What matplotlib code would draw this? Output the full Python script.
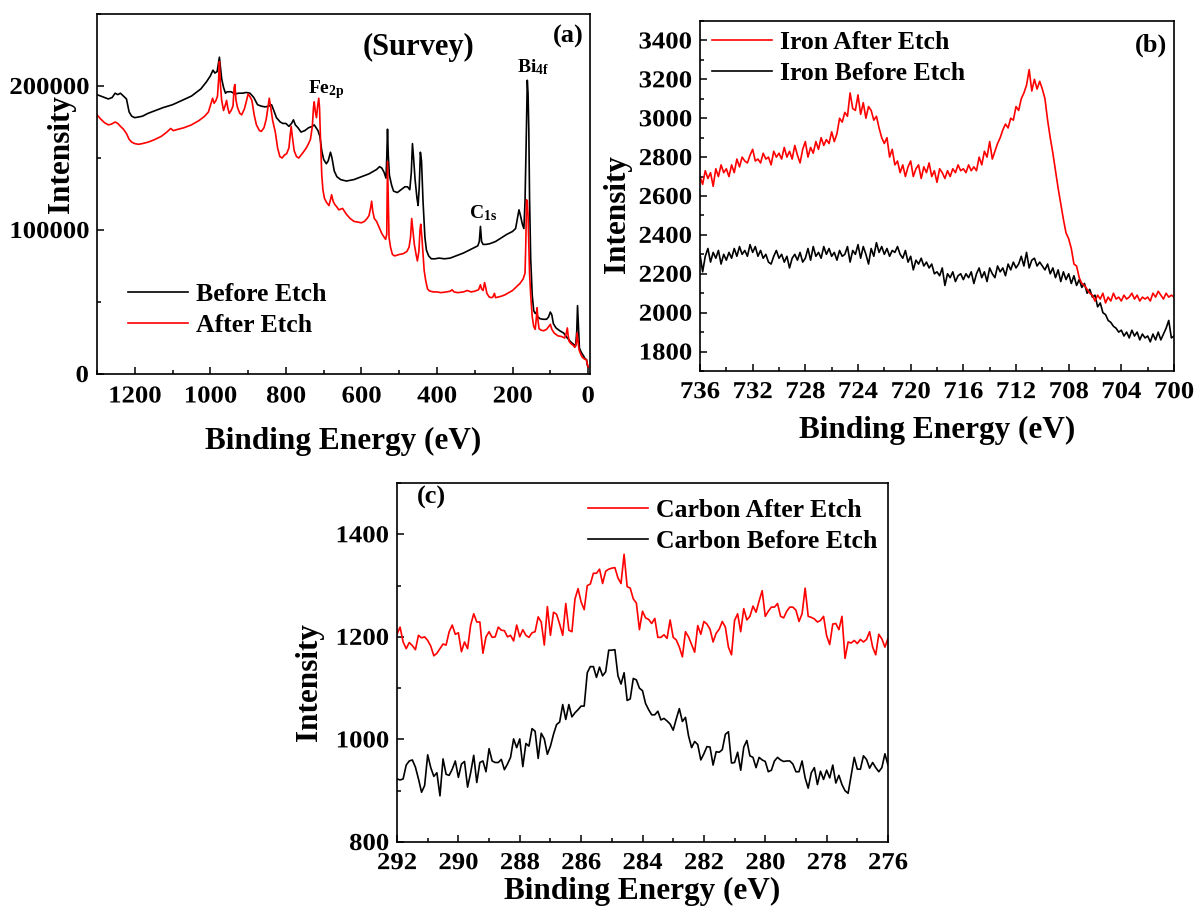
import numpy as np
import matplotlib
matplotlib.use('Agg')
import matplotlib.pyplot as plt
from matplotlib.ticker import MultipleLocator, FormatStrFormatter
from matplotlib.patheffects import AbstractPathEffect
from matplotlib.transforms import Affine2D

# ---------------- data: (a) survey ----------------
survey_before_be = [1300, 1290, 1280, 1270, 1260, 1252, 1245, 1238, 1230, 1222, 1215, 1208, 1200, 1190, 1180,
                    1165, 1150, 1125, 1100, 1075, 1050, 1025, 1010, 1000, 993, 988, 982, 976, 970, 965, 960,
                    955, 945, 935, 925, 915, 905, 895, 885, 875, 865, 855, 845, 838, 832, 825, 815, 808, 800,
                    792, 785, 780, 775, 768, 760, 750, 740, 730, 725, 720, 715, 710, 705, 700, 693, 688, 682,
                    678, 672, 665, 655, 640, 620, 600, 580, 560, 552, 546, 540, 535, 533, 531, 529, 526, 520,
                    515, 505, 495, 485, 478, 472, 468, 465, 462, 458, 453, 450, 447, 444, 441, 437, 432, 428,
                    422, 415, 405, 395, 380, 365, 350, 330, 315, 300, 292, 288, 285, 282, 278, 270, 260, 245,
                    230, 215, 200, 192, 187, 183, 179, 174, 170, 167, 164, 161, 159, 157, 155, 152, 148, 144,
                    140, 137, 134, 128, 120, 110, 105, 100, 96, 92, 85, 75, 65, 55, 45, 38, 33, 30, 28, 26, 23,
                    18, 12, 8, 4, 2, 0]
survey_before_k = [194, 193, 192, 191, 192, 195, 194, 195, 193, 191, 182, 179, 178, 178.5, 179,
                   181, 182.5, 185, 187, 190, 193, 198, 203, 207, 211, 209, 210, 220, 205, 199, 195,
                   196, 196, 194.5, 195, 195, 195.5, 195, 192, 187, 186, 185.5, 186, 187, 183, 178, 175, 174, 174,
                   172, 174, 176.5, 173, 171, 168, 169, 171, 172, 173, 171, 169, 165, 155, 149, 146, 148, 154,
                   150, 141, 137, 135, 134, 135, 137, 139, 142, 144, 143, 140, 136, 150, 170, 152, 138, 131,
                   127, 126, 128, 130, 130, 128, 140, 160, 150, 135, 122, 117, 130, 154, 148, 120, 95, 86,
                   82, 80, 80, 80.5, 80, 80.5, 82, 84, 86, 88, 89, 92, 102.5, 92, 90, 90, 90.5, 92,
                   94.5, 97, 99, 101, 108, 114, 110, 104, 101, 120, 160, 204, 195, 170, 122, 80, 55, 44,
                   42, 43, 40, 38.5, 38, 38, 39.5, 43, 41, 35, 32, 30, 28.5, 25, 22, 20.5, 19.5, 30, 47.5, 35, 18,
                   15, 12.5, 10.5, 10, 6, 5]

survey_after_be = [1300, 1290, 1280, 1270, 1262, 1252, 1245, 1238, 1230, 1222, 1215, 1208, 1200, 1190, 1180,
                   1165, 1150, 1130, 1115, 1105, 1098, 1085, 1070, 1050, 1030, 1015, 1005, 998, 994, 990, 985,
                   981, 978, 976, 973, 970, 965, 960, 957, 954, 950, 945, 940, 937, 935, 932, 928, 922, 917,
                   910, 904, 900, 896, 890, 884, 878, 870, 865, 858, 852, 847, 844, 840, 835, 828, 822, 816,
                   810, 804, 798, 792, 789, 786, 783, 778, 772, 766, 760, 754, 746, 740, 735, 730, 727, 725,
                   722, 719, 716, 713, 711, 708, 705, 702, 698, 692, 686, 682, 679, 675, 670, 665, 660, 655,
                   650, 645, 640, 630, 620, 610, 600, 592, 585, 580, 576, 573, 570, 566, 560, 555, 550, 546,
                   540, 536, 533, 531, 529, 527, 523, 518, 512, 500, 490, 480, 474, 470, 467, 464, 460, 456,
                   452, 448, 445, 443, 440, 437, 434, 430, 425, 420, 410, 400, 390, 375, 365, 360, 355, 345,
                   330, 320, 310, 300, 290, 285, 282, 278, 274, 271, 268, 262, 256, 252, 248, 245, 238, 230,
                   220, 210, 200, 190, 180, 172, 167, 165, 163, 161, 159, 157, 155, 152, 148, 144, 140, 137,
                   135, 133, 130, 125, 118, 110, 104, 100, 96, 90, 80, 70, 62, 58, 55, 53, 50, 45, 40, 35, 31,
                   29, 27, 24, 20, 15, 10, 5, 2, 0]
survey_after_k = [180, 177, 174.5, 173, 173.5, 175, 174, 172, 170, 167, 163, 161, 160, 159.5, 160,
                  161, 162.5, 165, 168, 170.5, 169, 170, 171, 173, 176, 179, 182, 188, 191.5, 188, 190,
                  193, 205, 217, 200, 190, 183, 187, 190, 185, 181, 183, 186, 199, 201, 190, 185, 181, 180,
                  184, 190, 194.5, 193, 190, 180, 173, 169, 168.5, 171, 177, 186, 191.5, 185, 176, 168, 157, 151,
                  150, 152, 153, 157, 165, 172, 165, 155, 151, 150, 152, 154, 157, 160, 163, 172, 185, 189,
                  182, 178, 186, 191.5, 185, 160, 138, 128, 122, 119, 117, 121, 124.5, 120, 117.5, 116, 114, 114.5,
                  115, 113, 111, 108, 106, 105.5, 105, 106, 108, 110, 115, 120, 113, 108, 106, 103, 100, 97.5,
                  95, 93.5, 97, 147.5, 120, 95, 88, 83, 82, 83, 83.5, 85, 88, 95, 108, 100, 90, 84,
                  78.5, 85, 100, 104, 95, 84, 72, 65, 59, 57.7, 57, 57, 56.5, 57, 57.5, 58.5, 57, 56.5,
                  57, 58, 57, 57.5, 58.5, 62, 59, 58, 63.5, 60, 56, 53.5, 53, 53.5, 56, 53, 53.5, 54,
                  55, 56.5, 58, 60.5, 63, 66, 70, 90, 121, 120, 110, 90, 70, 55, 40, 33, 31, 39,
                  46, 38, 31.5, 30.5, 30, 31, 33, 34.5, 31, 28.5, 26.5, 26, 25, 28, 32, 27, 22.5, 21, 20, 18.5, 22,
                  28.5, 23, 17, 14, 11.5, 10.5, 10, 7, 5]

# ---------------- data: (b) Fe 2p ----------------
iron_be = np.linspace(736.0, 700.0, 181)
iron_after = [2700, 2660, 2730, 2690, 2720, 2650, 2740, 2700, 2760, 2720,
              2740, 2700, 2760, 2720, 2790, 2750, 2800, 2780, 2770, 2810,
              2840, 2780, 2790, 2770, 2820, 2790, 2800, 2760, 2830, 2800,
              2820, 2790, 2850, 2800, 2830, 2790, 2860, 2810, 2770, 2840,
              2880, 2800, 2850, 2820, 2880, 2840, 2900, 2860, 2890, 2870,
              2930, 2880, 2920, 3000, 2980, 3030, 3010, 3130, 3050, 3040,
              3120, 3020, 3080, 3000, 3060, 3040, 2990, 3010, 2950, 2900,
              2870, 2900, 2800, 2840, 2760, 2780, 2720, 2760, 2700, 2750,
              2780, 2700, 2740, 2760, 2690, 2750, 2720, 2770, 2700, 2730,
              2670, 2740, 2720, 2690, 2730, 2700, 2740, 2720, 2760, 2730,
              2740, 2720, 2760, 2730, 2750, 2730, 2800, 2760, 2830, 2800,
              2880, 2790, 2830, 2870, 2900, 2940, 2970, 2950, 3000, 2990,
              3060, 3040, 3100, 3130, 3170, 3250, 3140, 3200, 3150, 3190,
              3150, 3100, 2990, 2900, 2820, 2730, 2640, 2560, 2480, 2410,
              2380, 2330, 2250, 2240, 2180, 2150, 2140, 2120, 2100, 2090,
              2060, 2090, 2070, 2100, 2050, 2080, 2060, 2100, 2070, 2080,
              2060, 2090, 2070, 2080, 2100, 2070, 2090, 2060, 2080, 2070,
              2080, 2060, 2100, 2080, 2110, 2090, 2070, 2100, 2080, 2090,
              2080]
iron_before = [2300, 2210, 2290, 2330, 2260, 2310, 2280, 2320, 2250, 2300,
               2270, 2310, 2280, 2330, 2290, 2340, 2300, 2320, 2290, 2350,
               2310, 2340, 2290, 2320, 2280, 2300, 2260, 2250, 2290, 2320,
               2280, 2300, 2260, 2290, 2230, 2280, 2300, 2270, 2310, 2260,
               2280, 2330, 2270, 2340, 2290, 2310, 2280, 2340, 2300, 2330,
               2290, 2310, 2270, 2320, 2290, 2300, 2340, 2260, 2320, 2300,
               2350, 2280, 2340, 2300, 2250, 2330, 2290, 2360, 2310, 2340,
               2300, 2330, 2290, 2320, 2310, 2340, 2300, 2280, 2320, 2260,
               2290, 2220, 2270, 2250, 2280, 2240, 2260, 2230, 2250, 2200,
               2210, 2190, 2230, 2140, 2200, 2180, 2210, 2160, 2190, 2200,
               2170, 2200, 2180, 2210, 2150, 2200, 2230, 2180, 2210, 2160,
               2230, 2200, 2180, 2240, 2210, 2230, 2190, 2250, 2220, 2260,
               2230, 2250, 2290, 2240, 2310, 2230, 2270, 2280, 2240, 2260,
               2240, 2220, 2250, 2200, 2230, 2180, 2220, 2160, 2210, 2170,
               2200, 2150, 2190, 2140, 2170, 2130, 2150, 2100, 2120, 2080,
               2090, 2030, 2050, 2000, 1990, 1960, 1950, 1930, 1920, 1900,
               1910, 1880, 1900, 1870, 1910, 1880, 1900, 1860, 1890, 1870,
               1880, 1850, 1890, 1860, 1900, 1860, 1890, 1920, 1960, 1870,
               1880]

# ---------------- data: (c) C 1s ----------------
carbon_be = np.linspace(292.0, 276.0, 161)
carbon_after = [1205, 1219, 1190, 1177, 1189, 1183, 1175, 1203, 1198, 1200,
                1193, 1182, 1163, 1168, 1177, 1186, 1184, 1210, 1223, 1205,
                1208, 1171, 1190, 1177, 1223, 1245, 1229, 1229, 1168, 1200,
                1210, 1199, 1200, 1219, 1213, 1212, 1200, 1203, 1192, 1223,
                1200, 1214, 1203, 1199, 1208, 1210, 1239, 1229, 1184, 1259,
                1203, 1248, 1244, 1225, 1203, 1265, 1213, 1210, 1274, 1294,
                1268, 1253, 1300, 1303, 1324, 1324, 1332, 1304, 1328, 1332,
                1334, 1335, 1315, 1304, 1361, 1298, 1295, 1274, 1266, 1214,
                1250, 1237, 1234, 1226, 1236, 1199, 1199, 1204, 1197, 1233,
                1199, 1194, 1180, 1161, 1210, 1200, 1185, 1170, 1222, 1205,
                1230, 1225, 1215, 1190, 1207, 1215, 1230, 1219, 1180, 1165,
                1232, 1245, 1210, 1255, 1233, 1240, 1260, 1248, 1270, 1290,
                1240, 1250, 1258, 1258, 1265, 1240, 1237, 1250, 1258, 1258,
                1252, 1230, 1245, 1295, 1240, 1238, 1235, 1229, 1232, 1240,
                1202, 1185, 1225, 1226, 1214, 1240, 1158, 1190, 1188, 1193,
                1187, 1195, 1190, 1195, 1210, 1180, 1165, 1205, 1196, 1180,
                1197]
carbon_before = [923, 921, 923, 950, 958, 960, 946, 923, 897, 910,
                 970, 945, 928, 935, 890, 962, 932, 930, 942, 958,
                 926, 952, 957, 907, 935, 969, 916, 955, 958, 937,
                 982, 958, 955, 955, 961, 941, 952, 965, 1001, 984,
                 1001, 947, 992, 987, 1021, 1016, 963, 1012, 1001, 971,
                 987, 1010, 1029, 1034, 1068, 1039, 1068, 1044, 1052, 1058,
                 1065, 1065, 1130, 1142, 1142, 1121, 1141, 1124, 1132, 1174,
                 1174, 1175, 1124, 1108, 1130, 1076, 1079, 1119, 1116, 1100,
                 1095, 1070, 1058, 1048, 1048, 1055, 1038, 1041, 1036, 1030,
                 1018, 1040, 1060, 1035, 1043, 1007, 984, 996, 990, 960,
                 972, 986, 985, 950, 976, 975, 980, 1010, 1015, 954,
                 955, 975, 940, 985, 998, 968, 965, 945, 965, 960,
                 957, 937, 940, 958, 965, 960, 957, 958, 958, 952,
                 937, 937, 958, 925, 905, 935, 945, 912, 938, 922,
                 940, 925, 950, 915, 930, 912, 900, 895, 930, 965,
                 942, 942, 968, 961, 944, 955, 945, 937, 945, 972,
                 950]

# ---------------- style ----------------
plt.rcParams['font.family'] = ['Liberation Serif', 'DejaVu Serif']
plt.rcParams['font.weight'] = 'bold'
plt.rcParams['axes.labelweight'] = 'bold'
plt.rcParams['mathtext.fontset'] = 'custom'
plt.rcParams['mathtext.rm'] = 'Liberation Serif:bold'
plt.rcParams['mathtext.it'] = 'Liberation Serif:bold'
plt.rcParams['mathtext.bf'] = 'Liberation Serif:bold'

W, H = 1196, 910
fig = plt.figure(figsize=(W / 100, H / 100), dpi=100)

RED = '#ff0000'
TICK_FS = 17.5
LAB_FS = 22.5
LEG_FS = 18.5


class Stretch(AbstractPathEffect):
    """Widen glyphs horizontally (text-local x) around an anchor."""

    def __init__(self, sx, anchor='center'):
        super().__init__()
        self.sx = sx
        self.anchor = anchor

    def draw_path(self, renderer, gc, tpath, affine, rgbFace=None):
        ext = tpath.get_extents()
        if self.anchor == 'right':
            cx = ext.x1
        elif self.anchor == 'left':
            cx = ext.x0
        else:
            cx = 0.5 * (ext.x0 + ext.x1)
        pre = Affine2D().translate(-cx, 0).scale(self.sx, 1.0).translate(cx, 0)
        renderer.draw_path(gc, tpath, pre + affine, rgbFace)


def px_axes(l, t, r, b):
    return fig.add_axes([l / W, 1 - b / H, (r - l) / W, (b - t) / H])


def fx(x):
    return x / W


def fy(y):
    return 1 - y / H


def style(ax, xmaj, xmin, ymaj, ymin, xpad):
    ax.xaxis.set_major_locator(MultipleLocator(xmaj))
    ax.xaxis.set_minor_locator(MultipleLocator(xmin))
    ax.yaxis.set_major_locator(MultipleLocator(ymaj))
    ax.yaxis.set_minor_locator(MultipleLocator(ymin))
    ax.xaxis.set_major_formatter(FormatStrFormatter('%d'))
    ax.yaxis.set_major_formatter(FormatStrFormatter('%d'))
    ax.tick_params(which='both', direction='in', top=False, right=False, width=1.1,
                   labelsize=TICK_FS)
    ax.tick_params(which='major', length=5)
    ax.tick_params(which='minor', length=3)
    ax.tick_params(axis='y', pad=6)
    ax.tick_params(axis='x', pad=xpad)
    for s in ax.spines.values():
        s.set_linewidth(1.2)


# ---------------- (a) ----------------
axa = px_axes(97, 14, 590, 374)
l_b, = axa.plot(survey_before_be, np.array(survey_before_k) * 1000, color='black', lw=1.2, label='Before Etch')
l_a, = axa.plot(survey_after_be, np.array(survey_after_k) * 1000, color=RED, lw=1.2, label='After Etch')
axa.set_xlim(1300, -5)
axa.set_ylim(0, 250000)
style(axa, 200, 100, 100000, 50000, 9)
axa.set_xlabel('Binding Energy (eV)', fontsize=LAB_FS, fontweight='bold', labelpad=14)
axa.set_ylabel('Intensity', fontsize=LAB_FS, fontweight='bold')
axa.yaxis.set_label_coords(-0.043, 0.61)
axa.legend(handles=[l_b, l_a], loc='upper left', bbox_to_anchor=(fx(128), fy(283)),
           bbox_transform=fig.transFigure, frameon=False,
           handlelength=2.35, handletextpad=0.3, labelspacing=0.31, borderpad=0, borderaxespad=0,
           prop={'weight': 'bold', 'size': LEG_FS})
fig.text(fx(419), fy(47), '(Survey)', fontsize=22, fontweight='bold', ha='center', va='center')
fig.text(fx(568), fy(36), '(a)', fontsize=19, fontweight='bold', ha='center', va='center')
fig.text(fx(308), fy(93), r'$\mathrm{Fe_{2p}}$', fontsize=14, ha='left', va='baseline')
fig.text(fx(517), fy(72), r'$\mathrm{Bi_{4f}}$', fontsize=14, ha='left', va='baseline')
fig.text(fx(469), fy(218), r'$\mathrm{C_{1s}}$', fontsize=14, ha='left', va='baseline')

# ---------------- (b) ----------------
axb = px_axes(700, 21, 1174, 371)
lb_b, = axb.plot(iron_be, iron_before, color='black', lw=1.2, label='Iron Before Etch')
lb_a, = axb.plot(iron_be, iron_after, color=RED, lw=1.2, label='Iron After Etch')
axb.set_xlim(736, 700)
axb.set_ylim(1700, 3500)
style(axb, 4, 2, 200, 100, 8)
axb.set_xlabel('Binding Energy (eV)', fontsize=LAB_FS, fontweight='bold', labelpad=9)
axb.set_ylabel('Intensity', fontsize=LAB_FS, fontweight='bold')
axb.yaxis.set_label_coords(-0.144, 0.449)
axb.legend(handles=[lb_a, lb_b], loc='upper left', bbox_to_anchor=(fx(712), fy(31)),
           bbox_transform=fig.transFigure, frameon=False,
           handlelength=2.35, handletextpad=0.3, labelspacing=0.31, borderpad=0, borderaxespad=0,
           prop={'weight': 'bold', 'size': LEG_FS})
fig.text(fx(1151), fy(45), '(b)', fontsize=19, fontweight='bold', ha='center', va='center')

# ---------------- (c) ----------------
axc = px_axes(397, 483, 888, 842)
lc_b, = axc.plot(carbon_be, carbon_before, color='black', lw=1.2, label='Carbon Before Etch')
lc_a, = axc.plot(carbon_be, carbon_after, color=RED, lw=1.2, label='Carbon After Etch')
axc.set_xlim(292, 276)
axc.set_ylim(800, 1500)
style(axc, 2, 1, 200, 100, 8)
axc.set_xlabel('Binding Energy (eV)', fontsize=LAB_FS, fontweight='bold', labelpad=2)
axc.set_ylabel('Intensity', fontsize=LAB_FS, fontweight='bold')
axc.yaxis.set_label_coords(-0.149, 0.446)
axc.legend(handles=[lc_a, lc_b], loc='upper left', bbox_to_anchor=(fx(588), fy(499)),
           bbox_transform=fig.transFigure, frameon=False,
           handlelength=2.35, handletextpad=0.3, labelspacing=0.31, borderpad=0, borderaxespad=0,
           prop={'weight': 'bold', 'size': LEG_FS})
fig.text(fx(431), fy(497), '(c)', fontsize=19, fontweight='bold', ha='center', va='center')

# widen tick labels slightly (the original glyphs are broader than Times proportions)
fig.canvas.draw()
for ax in (axa, axb, axc):
    for t in ax.xaxis.get_major_ticks():
        t.label1.set_path_effects([Stretch(1.1, 'center')])
    for t in ax.yaxis.get_major_ticks():
        t.label1.set_path_effects([Stretch(1.1, 'right')])

fig.savefig('out.png', dpi=100)
